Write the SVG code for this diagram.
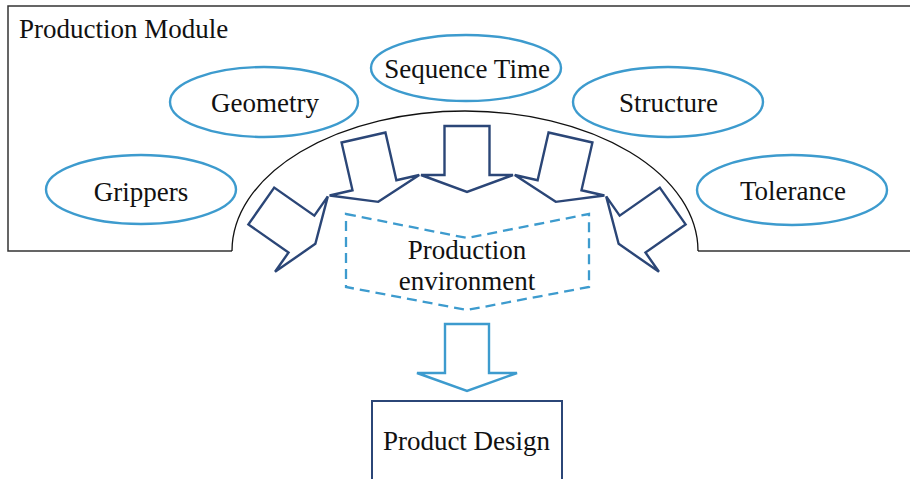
<svg xmlns="http://www.w3.org/2000/svg" width="910" height="479" viewBox="0 0 910 479">
<style>
.t{font-family:"Liberation Serif","Times New Roman",serif;font-size:27px;fill:#111;}
.c{text-anchor:middle;}
.el{fill:#fff;stroke:#3d9bce;stroke-width:2.4;}
.arr{fill:#fff;stroke:#2b4677;stroke-width:2.4;stroke-linejoin:miter;}
</style>
<defs>
<polygon id="navyArrow" class="arr" points="-22.5,0 22.5,0 22.5,49 46,49 0,66 -46,49 -22.5,49"/>
</defs>
<g id="production-module">
<path d="M910,6 H8 V251 H232 M698,251 H910" fill="none" stroke="#333" stroke-width="1.5"/>
<path d="M232,251 A233,140 0 0 1 698,251" fill="none" stroke="#111" stroke-width="1.3"/>
<text class="t" x="19" y="38">Production Module</text>
</g>
<g id="grippers"><ellipse class="el" cx="141" cy="189.5" rx="95" ry="34.5"/><text class="t c" x="141" y="201">Grippers</text></g>
<g id="geometry"><ellipse class="el" cx="264" cy="102" rx="94" ry="35"/><text class="t c" x="265" y="112">Geometry</text></g>
<g id="sequence-time"><ellipse class="el" cx="466" cy="68" rx="95" ry="33"/><text class="t c" x="467" y="78">Sequence Time</text></g>
<g id="structure"><ellipse class="el" cx="668" cy="102" rx="95" ry="35"/><text class="t c" x="668.5" y="112">Structure</text></g>
<g id="tolerance"><ellipse class="el" cx="792" cy="190" rx="95" ry="35"/><text class="t c" x="793" y="200">Tolerance</text></g>
<g id="connectors">
<use href="#navyArrow" transform="translate(261.3,206) rotate(-55)"/>
<use href="#navyArrow" transform="translate(363.5,137.5) rotate(-12.9)"/>
<use href="#navyArrow" transform="translate(467,126)"/>
<use href="#navyArrow" transform="translate(570.5,137.5) rotate(12.9)"/>
<use href="#navyArrow" transform="translate(672.7,206) rotate(55)"/>
<polygon points="445,324 489,324 489,373 517,373 467,391 417,373 445,373" fill="#fff" stroke="#3d9bce" stroke-width="2.4"/>
</g>
<g id="production-environment">
<polygon points="346,214 467,238 589,214 589,287 467,310 346,287" fill="none" stroke="#3d9bce" stroke-width="2.3" stroke-dasharray="10,6"/>
<text class="t c" x="467" y="259">Production</text>
<text class="t c" x="467" y="290">environment</text>
</g>
<g id="product-design">
<rect x="372" y="401" width="190" height="100" fill="#fff" stroke="#2b4677" stroke-width="2"/>
<text class="t c" x="466.5" y="450">Product Design</text>
</g>
</svg>
